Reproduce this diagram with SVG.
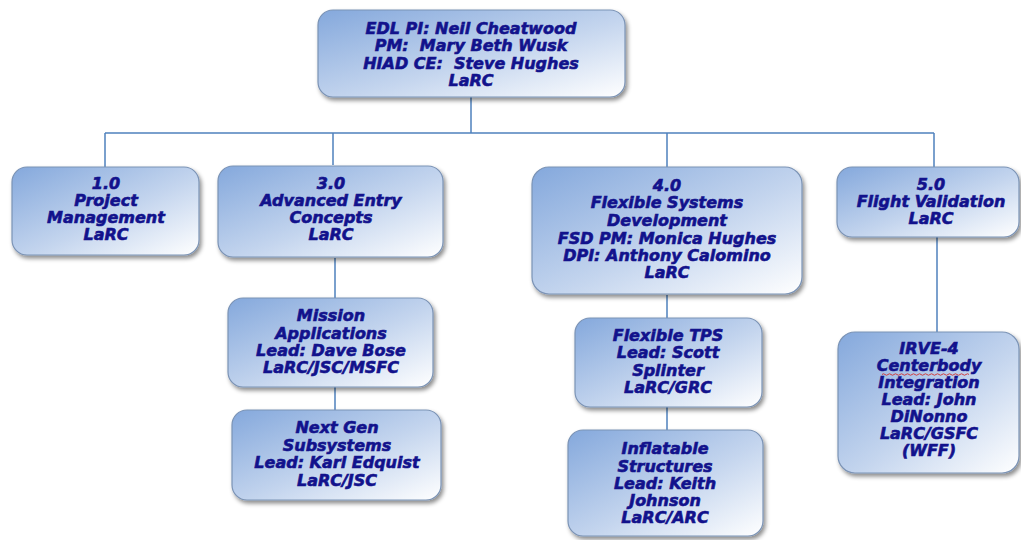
<svg xmlns="http://www.w3.org/2000/svg" width="1021" height="540" viewBox="0 0 1021 540">
<defs>
<linearGradient id="g" x1="0" y1="0" x2="1" y2="1">
<stop offset="0" stop-color="#84a8dc"/>
<stop offset="0.55" stop-color="#c4d5ee"/>
<stop offset="1" stop-color="#ffffff"/>
</linearGradient>
<filter id="sh" x="-10%" y="-10%" width="125%" height="130%">
<feDropShadow dx="2" dy="3" stdDeviation="2" flood-color="#000" flood-opacity="0.45"/>
</filter>
</defs>
<style>
.box{fill:url(#g);stroke:#7b93b5;stroke-width:1.2;filter:url(#sh)}
.t{font-family:"DejaVu Sans","Liberation Sans",sans-serif;font-weight:bold;font-style:italic;font-size:16px;fill:#12128c;stroke:#12128c;stroke-width:0.6;text-anchor:middle}
.c{stroke:#4f81bd;stroke-width:1.5;fill:none}
</style>
<rect width="1021" height="540" fill="#ffffff"/>
<g id="connectors">
<path class="c" d="M471 97V133M105 133H934M105 133V167M333 133V165M667 133V167M934 133V167"/>
<path class="c" d="M335 258V298M335 387V410"/>
<path class="c" d="M667 295V318M667 407V430"/>
<path class="c" d="M937 237V332"/>
</g>
<g id="n-top">
<rect class="box" x="318" y="10" width="307" height="87" rx="15"/>
<text class="t" x="471" y="34">EDL PI: Neil Cheatwood</text>
<text class="t" x="471" y="51" xml:space="preserve">PM:  Mary Beth Wusk</text>
<text class="t" x="471" y="69" xml:space="preserve">HIAD CE:  Steve Hughes</text>
<text class="t" x="471" y="86">LaRC</text>
</g>
<g id="n-1">
<rect class="box" x="12" y="167" width="187" height="88" rx="15"/>
<text class="t" x="106" y="189">1.0</text>
<text class="t" x="106" y="206">Project</text>
<text class="t" x="106" y="223">Management</text>
<text class="t" x="106" y="240">LaRC</text>
</g>
<g id="n-3">
<rect class="box" x="218" y="166" width="225" height="91" rx="15"/>
<text class="t" x="331" y="189">3.0</text>
<text class="t" x="331" y="206">Advanced Entry</text>
<text class="t" x="331" y="223">Concepts</text>
<text class="t" x="331" y="240">LaRC</text>
</g>
<g id="n-4">
<rect class="box" x="532" y="167" width="270" height="127" rx="17"/>
<text class="t" x="667" y="191">4.0</text>
<text class="t" x="667" y="208">Flexible Systems</text>
<text class="t" x="667" y="226">Development</text>
<text class="t" x="667" y="244">FSD PM: Monica Hughes</text>
<text class="t" x="667" y="261">DPI: Anthony Calomino</text>
<text class="t" x="667" y="278">LaRC</text>
</g>
<g id="n-5">
<rect class="box" x="837" y="167" width="182" height="70" rx="15"/>
<text class="t" x="931" y="190">5.0</text>
<text class="t" x="931" y="207">Flight Validation</text>
<text class="t" x="931" y="224">LaRC</text>
</g>
<g id="n-mission">
<rect class="box" x="228" y="298" width="205" height="89" rx="15"/>
<text class="t" x="331" y="321">Mission</text>
<text class="t" x="331" y="339">Applications</text>
<text class="t" x="331" y="356">Lead: Dave Bose</text>
<text class="t" x="331" y="373">LaRC/JSC/MSFC</text>
</g>
<g id="n-nextgen">
<rect class="box" x="232" y="410" width="209" height="90" rx="15"/>
<text class="t" x="337" y="433">Next Gen</text>
<text class="t" x="337" y="451">Subsystems</text>
<text class="t" x="337" y="468">Lead: Karl Edquist</text>
<text class="t" x="337" y="486">LaRC/JSC</text>
</g>
<g id="n-tps">
<rect class="box" x="575" y="318" width="187" height="89" rx="15"/>
<text class="t" x="668" y="341">Flexible TPS</text>
<text class="t" x="668" y="358">Lead: Scott</text>
<text class="t" x="668" y="376">Splinter</text>
<text class="t" x="668" y="393">LaRC/GRC</text>
</g>
<g id="n-inflatable">
<rect class="box" x="568" y="430" width="195" height="106" rx="15"/>
<text class="t" x="665" y="454">Inflatable</text>
<text class="t" x="665" y="472">Structures</text>
<text class="t" x="665" y="489">Lead: Keith</text>
<text class="t" x="665" y="506">Johnson</text>
<text class="t" x="665" y="523">LaRC/ARC</text>
</g>
<g id="n-irve">
<rect class="box" x="838" y="332" width="181" height="141" rx="17"/>
<text class="t" x="929" y="354">IRVE-4</text>
<text class="t" x="929" y="371">Centerbody</text>
<path d="M882 374.5 q1.5 -1.5 3 0 t3 0 t3 0 t3 0 t3 0 t3 0 t3 0 t3 0 t3 0 t3 0 t3 0 t3 0 t3 0 t3 0 t3 0 t3 0 t3 0 t3 0 t3 0 t3 0 t3 0 t3 0 t3 0 t3 0 t3 0 t3 0 t3 0 t3 0 t3 0" fill="none" stroke="#d04040" stroke-width="1"/>
<text class="t" x="929" y="388">Integration</text>
<text class="t" x="929" y="405">Lead: John</text>
<text class="t" x="929" y="422">DiNonno</text>
<text class="t" x="929" y="439">LaRC/GSFC</text>
<text class="t" x="929" y="456">(WFF)</text>
</g>
</svg>
